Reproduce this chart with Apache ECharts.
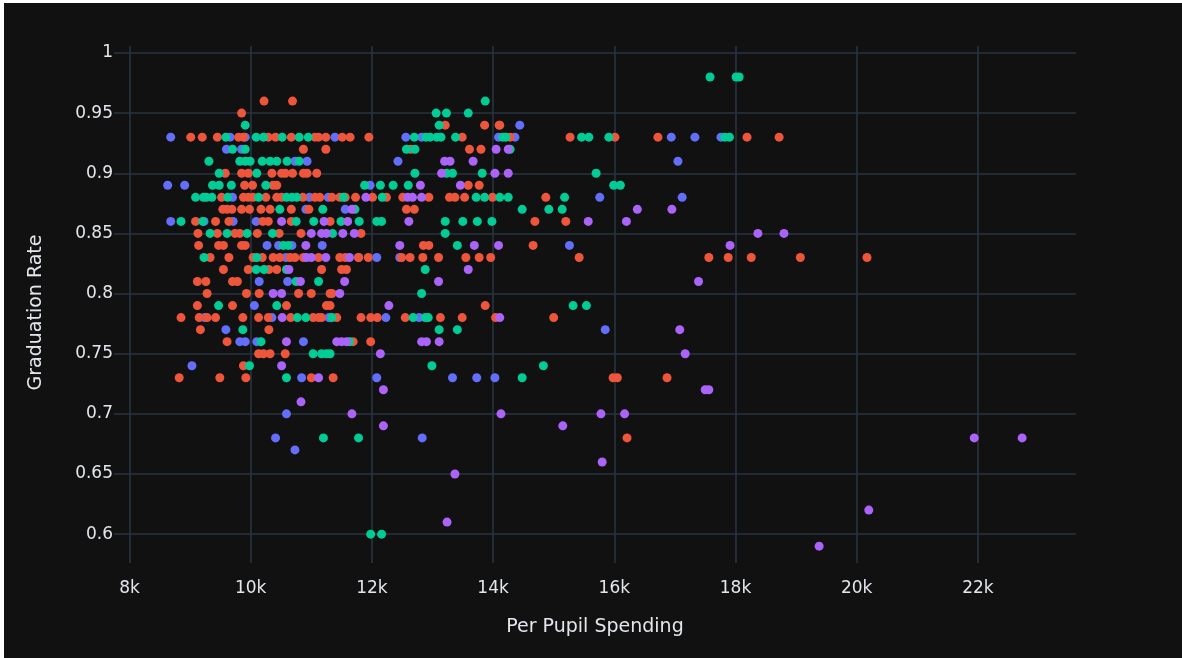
<!DOCTYPE html>
<html><head><meta charset="utf-8">
<script src="https://cdn.jsdelivr.net/npm/echarts@6/dist/echarts.min.js"></script>
<style>html,body{margin:0;padding:0;background:#fff;overflow:hidden}#c{position:absolute;left:4px;top:3px;width:1178px;height:655px}</style>
</head><body><div id="c"></div>
<script>
// each row: [graduation rate, per pupil spending in $k ...]
const blueRows = [
[.94,14.44],[.93,8.68,9.66,9.91,11.39,12.56,12.82,14.09,14.36,16.94,17.33,17.76],[.92,9.6,9.85],
[.91,10.73,10.93,12.43,17.05],[.89,8.63,8.91,11.97],[.88,9.7,10.97,11.28,15.76,17.12],[.87,10.91,11.56],
[.86,8.68,9.23,9.71,10.09],[.84,10.27,10.46,10.68,11.18,15.26],[.83,10.58,11.78,12.08,12.46],[.81,10.14,10.61],
[.79,10.06],[.78,9.24,10.35,11.29,12.23,12.78],[.77,9.59,15.85],[.76,9.82,9.91,10.1,10.87],[.74,9.03],
[.73,10.84,12.08,13.33,13.73,14.03],[.7,10.59],[.68,10.41,12.83],[.67,10.73]
];
const redRows = [
[.96,10.22,10.69],[.95,9.85],[.94,13.21,13.86,14.1,14.11],
[.93,9.01,9.2,9.45,9.8,9.88,10.29,10.41,10.67,11.06,11.12,11.24,11.51,11.64,11.95,13.49,14.28,15.27,16.01,16.72,18.19,18.72],
[.92,10.87,11.24,12.64,13.61,13.8],
[.9,9.58,9.85,9.96,10.35,10.51,10.57,10.69,10.87,10.93,11.09],[.89,9.9,10.03,10.37,10.43,13.59,13.77],
[.88,9.52,9.88,9.96,10.04,10.25,10.43,10.51,10.86,11.06,11.14,11.34,11.47,11.56,11.73,12.01,12.24,12.51,12.94,13.28,13.37,13.53,13.99,14.87],
[.87,9.54,9.61,9.69,9.85,9.98,10.17,10.32,10.67,10.96,12.57,12.7],
[.86,9.09,9.42,9.64,10.2,10.29,10.67,11.31,14.69,15.2],
[.85,9.13,9.45,9.74,9.82,10.11,10.47,10.83,11.82],
[.84,9.14,9.47,9.55,9.85,9.91,12.85,12.94,14.66],
[.83,9.33,9.64,10.04,10.19,10.37,10.48,10.65,10.73,10.87,11.12,11.47,11.56,11.78,11.94,12.49,12.63,12.84,13.1,13.55,13.77,13.96,15.42,17.56,17.88,18.26,19.07,20.17],
[.82,9.55,9.96,10.3,10.43,11.17,11.5,11.58],[.81,9.12,9.26,9.7,9.78],
[.8,9.28,9.93,10.14,10.79,11.0,11.31,11.34],[.79,9.12,9.7,10.59,11.25,11.31,13.87],
[.78,8.85,9.15,9.28,9.42,9.87,10.13,10.29,10.66,11.03,11.12,11.17,11.42,11.82,11.98,12.09,12.55,13.13,13.49,14.04,15.0],
[.77,9.17,10.3],[.76,9.61,11.69,11.98],[.75,10.13,10.21,10.32,10.57],[.74,9.88],
[.73,8.82,9.49,9.92,11.0,11.36,15.98,16.05,16.87],[.68,16.21]
];
const greenRows = [
[.98,17.58,18.01,18.06],[.96,13.87],[.95,13.06,13.23,13.59],[.94,9.91,13.11],
[.93,9.59,10.09,10.21,10.52,10.8,10.95,12.7,12.89,12.96,13.07,13.14,13.38,14.16,14.21,15.46,15.58,15.91,17.82,17.9],
[.92,9.7,9.91,12.57,12.71,14.28],[.91,9.31,9.82,9.91,9.99,10.19,10.32,10.43,10.6,10.8],
[.9,9.48,10.1,12.71,13.23,13.33,13.82,15.7],[.89,9.37,9.48,9.68,10.25,11.88,12.14,12.35,12.6,15.99,16.1],
[.88,9.09,9.22,9.27,9.36,9.62,10.13,10.59,10.68,10.76,11.53,12.17,13.72,13.86,14.11,14.25,15.18],
[.87,10.48,11.19,11.72,14.48,14.92,15.14],[.86,8.85,9.21,10.75,11.04,11.49,11.79,12.08,12.16,13.21,13.5,13.74,13.98],
[.85,9.33,9.61,9.94,10.36,11.35,13.21],[.84,10.54,10.62,13.41],[.83,9.23,10.1],[.82,10.09,10.22,10.59,12.88],
[.81,10.75,11.12],[.8,12.82],[.79,9.47,10.43,15.32,15.54],[.78,10.77,10.91,11.34,12.68,12.88,12.93],
[.77,9.87,13.11,13.41],[.76,10.17,11.63],[.75,11.03,11.17,11.25,11.31],[.74,9.98,12.99,14.83],[.73,10.59,14.48],
[.68,11.2,11.78],[.6,11.98,12.16]
];
const purpleRows = [
[.92,14.05,14.25],[.91,13.2,13.29,13.67],[.9,13.15,14.03,14.25],[.89,12.8,13.46],
[.88,11.9,12.59,12.67,12.82],[.87,11.67,16.38,16.95],[.86,10.51,11.21,11.6,12.61,15.57,16.2],
[.85,11.0,11.17,11.25,11.52,11.71,18.37,18.8],[.84,10.91,12.46,13.69,14.09,17.91],
[.83,10.92,11.0,11.24,11.63],[.82,10.63,13.59],[.81,10.82,11.55,13.1,17.39],[.8,10.37,10.51,11.47],
[.79,12.28],[.78,10.52,14.11],[.77,17.08],[.76,10.59,11.42,11.5,11.58,12.82,12.9,13.11],[.75,12.14,17.17],
[.74,10.51],[.73,11.12],[.72,12.19,17.5,17.56],[.71,10.83],[.7,11.67,14.13,15.78,16.17],[.69,12.19,15.15],
[.68,21.94,22.73],[.66,15.8],[.65,13.37],[.62,20.2],[.61,13.24],[.59,19.38]
];
const xTicks = [8000,10000,12000,14000,16000,18000,20000,22000];
const yTicks = [0.6,0.65,0.7,0.75,0.8,0.85,0.9,0.95,1];
const xAxisTitle = 'Per Pupil Spending';
const yAxisTitle = 'Graduation Rate';

const points = rows => rows.flatMap(([rate, ...xs]) => xs.map(k => [Math.round(k * 1000), rate]));
const series = [[blueRows,'#636efa'],[redRows,'#EF553B'],[greenRows,'#00cc96'],[purpleRows,'#ab63fa']]
  .map(([rows,color]) => ({type:'scatter',data:points(rows),symbolSize:9,itemStyle:{color,opacity:1},silent:true}));

const font = '"DejaVu Sans",Verdana,sans-serif';
const txt = {color:'#e3e6eb',fontFamily:font,fontSize:17};
const line = {show:true,showMinLine:true,showMaxLine:true,lineStyle:{color:'#283442',width:1.6}};
const chart = echarts.init(document.getElementById('c'),null,{renderer:'canvas'});
chart.setOption({
  animation:false,backgroundColor:'#111111',
  grid:{left:110,right:106,top:43,bottom:95,outerBoundsMode:'none'},
  xAxis:{type:'value',min:7744,max:23619,name:xAxisTitle,nameLocation:'middle',nameGap:55,
    nameTextStyle:{...txt,fontSize:19},axisLine:{show:false},axisTick:{show:false,customValues:xTicks},splitLine:line,
    axisLabel:{...txt,margin:17,customValues:xTicks,formatter:v=>(v/1000)+'k'}},
  yAxis:{type:'value',min:0.576,max:1.0058,name:yAxisTitle,nameLocation:'middle',nameGap:68,
    nameTextStyle:{...txt,fontSize:19,padding:[0,16,0,0]},axisLine:{show:false},axisTick:{show:false,customValues:yTicks},splitLine:line,
    axisLabel:{...txt,margin:1,padding:[3,0,0,0],customValues:yTicks,formatter:v=>String(+v.toFixed(2))}},
  series
});
</script></body></html>
